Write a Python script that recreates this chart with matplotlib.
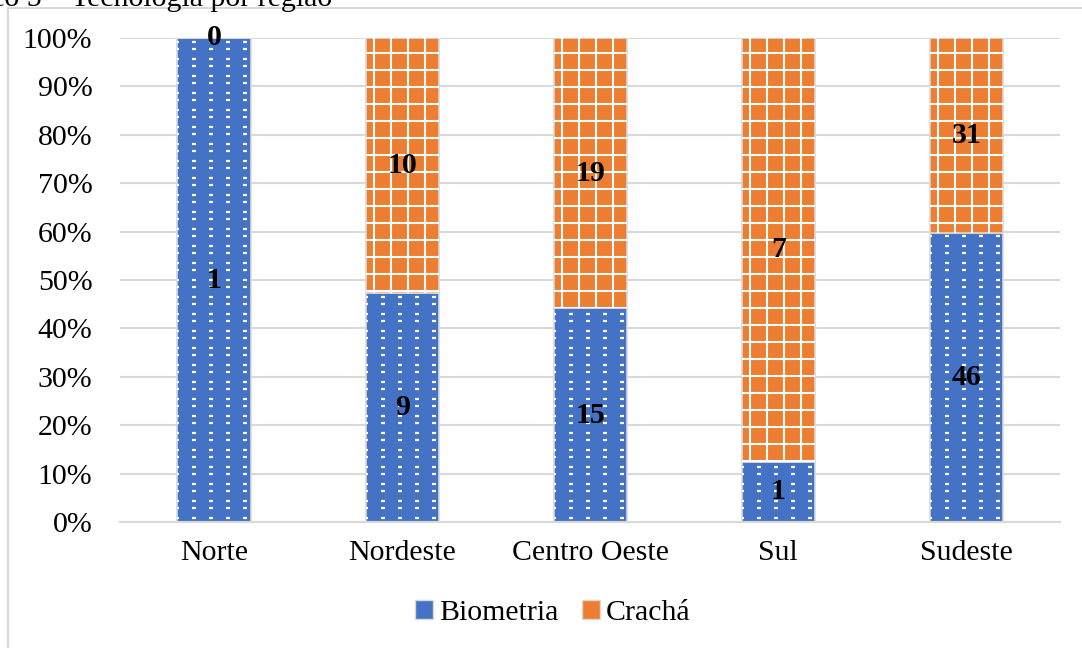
import numpy as np
import matplotlib.pyplot as plt
from matplotlib.patches import Rectangle, Patch

regioes = ["Norte", "Nordeste", "Centro Oeste", "Sul", "Sudeste"]
biometria = np.array([1, 9, 15, 1, 46])
cracha = np.array([0, 10, 19, 7, 31])

AZUL = "#4472C4"
LARANJA = "#ED7D31"
BORDA = "#D9D9D9"

plt.rcParams["font.family"] = ["Liberation Serif", "DejaVu Serif"]

total = biometria + cracha
pct_bio = biometria / total * 100
pct_cra = cracha / total * 100

W, H = 1082, 648
fig = plt.figure(figsize=(W / 100, H / 100), dpi=100)
ax = fig.add_axes([0.111, 0.1944, 0.869, 0.747])

x = np.arange(len(regioes))
largura = 0.39

b1 = ax.bar(x, pct_bio, largura, color=AZUL, edgecolor=BORDA, linewidth=1.2, zorder=2)
b2 = ax.bar(x, pct_cra, largura, bottom=pct_bio, color=LARANJA, edgecolor=BORDA,
            linewidth=1.2, zorder=2)

# escala aproximada em pixels para desenhar as texturas
ax_w_px = 0.869 * W
ax_h_px = 0.747 * H
px_x = len(regioes) / ax_w_px      # unidades de x por pixel
px_y = 100 / ax_h_px               # unidades de y por pixel
passo = 17

# textura da biometria: tracinhos brancos em pares de linhas
for barra in b1:
    x0 = barra.get_x()
    cols = x0 + np.arange(0, 6) * passo * px_x
    linhas = []
    for k in range(0, 30):
        base = k * passo
        linhas += [base + 4, base + 11]
    linhas = 100 - np.array(linhas) * px_y
    xx, yy = np.meshgrid(cols, linhas)
    pts, = ax.plot(xx.ravel(), yy.ravel(), ls="none", marker="_", color="white",
                   markersize=2.6, markeredgewidth=1.6, zorder=3)
    pts.set_clip_path(barra)

# textura do crachá: grade branca
for barra in b2:
    x0 = barra.get_x()
    for k in range(0, 6):
        xv = x0 + (8.5 + k * passo) * px_x
        ln, = ax.plot([xv, xv], [0, 100], color="white", lw=1.5, zorder=3)
        ln.set_clip_path(barra)
    for k in range(0, 30):
        yv = 100 - (14.7 + k * passo) * px_y
        ln, = ax.plot([x0, x0 + largura], [yv, yv], color="white", lw=1.5, zorder=3)
        ln.set_clip_path(barra)

ax.bar_label(b1, labels=[str(v) for v in biometria], label_type="center",
             fontsize=21.5, fontweight="bold", zorder=5)
ax.bar_label(b2, labels=[str(v) for v in cracha], label_type="center",
             fontsize=21.5, fontweight="bold", zorder=5)

ax.set_xlim(-0.5, len(regioes) - 0.5)
ax.set_ylim(0, 100)
ax.set_yticks(np.arange(0, 101, 10))
ax.set_yticklabels([f"{v}%" for v in range(0, 101, 10)])
ax.set_xticks(x)
ax.set_xticklabels(regioes)
ax.tick_params(axis="both", length=0, labelsize=21.5)
ax.tick_params(axis="y", pad=20)
ax.tick_params(axis="x", pad=13)
ax.yaxis.grid(True, color=BORDA, linewidth=1.5, zorder=0)
ax.set_axisbelow(True)
for s in ["top", "right", "left"]:
    ax.spines[s].set_visible(False)
ax.spines["bottom"].set_color(BORDA)
ax.spines["bottom"].set_linewidth(1.5)

leg_handles = [
    Patch(facecolor=AZUL, edgecolor=BORDA, label="Biometria"),
    Patch(facecolor=LARANJA, edgecolor=BORDA, label="Crachá"),
]
fig.legend(handles=leg_handles, loc="center", bbox_to_anchor=(0.511, 0.054),
           ncol=2, frameon=False, fontsize=21.5, handlelength=0.6,
           handleheight=0.6, handletextpad=0.2, columnspacing=0.8)

# moldura do gráfico
fig.patches.append(Rectangle((8 / W, -0.01), 1.0, 1 - 8 / H + 0.01,
                             transform=fig.transFigure, facecolor="none",
                             edgecolor=BORDA, linewidth=1.5))

fig.text(-72 / W, 1 - 6 / H, "Gráfico 5 – Tecnologia por região",
         fontsize=21.5, va="baseline", ha="left")

fig.savefig("out.png", dpi=100)
